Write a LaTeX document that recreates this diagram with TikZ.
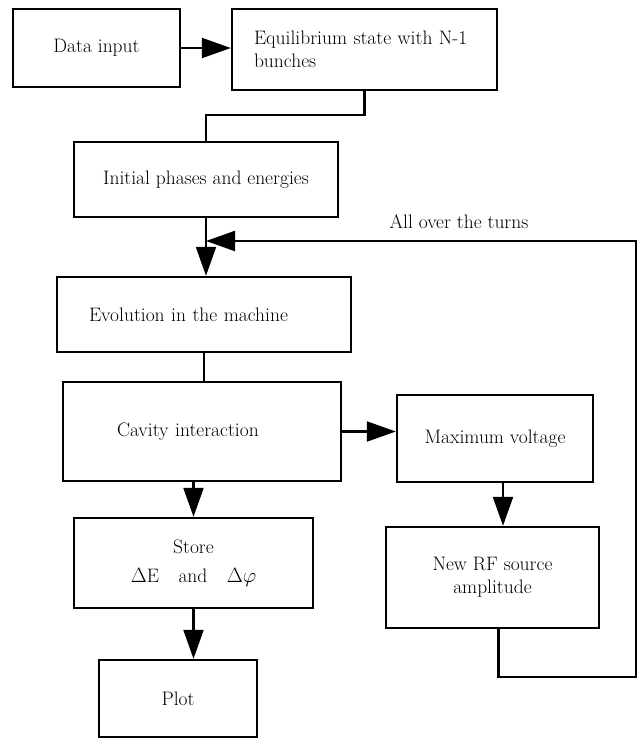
\documentclass[tikz,border=0pt]{standalone}
\usetikzlibrary{arrows.meta,calc}
\newcommand{\FCType}{\fontsize{19.5}{23}\selectfont}
\tikzset{fc/base/.style={x=1pt,y=1pt,line cap=butt,line join=miter,
  every node/.style={font=\FCType,inner sep=0pt}},
  fc/box/.style={draw,line width=2.4pt,align=center},
  fc/arrow/.style={-{Triangle[length=29pt,width=20pt]},line width=2.2pt},
  fc/line/.style={line width=2.2pt}}
\begin{document}
\begin{tikzpicture}[fc/base,y=-1pt]
  \useasboundingbox (0,0) rectangle (642,740);
  % boxes, top row
  \node[fc/box,minimum width=167pt,minimum height=78pt] (datain) at (96.5,48) {Data input};
  \node[fc/box,minimum width=265pt,minimum height=81pt,text width=221pt,align=left] (equil)
    at (364.5,49.5) {Equilibrium state with N-1\\bunches};
  % main column
  \node[fc/box,minimum width=264pt,minimum height=75pt] (initial) at (206,179.5) {Initial phases and energies};
  \node[fc/box,minimum width=294pt,minimum height=75pt,text width=230pt,align=left] (evol)
    at (204,314.5) {Evolution in the machine};
  \node[fc/box,minimum width=278pt,minimum height=99pt,text width=170pt,align=left] (cavity)
    at (202,431.5) {Cavity interaction};
  \node[fc/box,minimum width=239pt,minimum height=90pt] (store) at (193.5,563)
    {Store\\[6pt]$\Delta$E\quad and\quad $\Delta\varphi$};
  \node[fc/box,minimum width=158pt,minimum height=77pt] (plot) at (178,698.5) {Plot};
  % feedback column
  \node[fc/box,minimum width=196pt,minimum height=87pt] (maxv) at (495,438.5) {Maximum voltage};
  \node[fc/box,minimum width=213pt,minimum height=101pt] (newrf) at (492.5,577.5) {New RF source\\amplitude};
  \node (turns) at (459,222) {All over the turns};
  \coordinate (loopin) at (initial.south |- 0,241);
  \coordinate (corner) at (636,677);
  % connectors
  \draw[fc/arrow] (datain.east) -- (datain.east -| equil.west);
  \draw[fc/line] (equil.south) -- ++(0,24) -| (initial.north);
  \draw[fc/arrow] (initial.south) -- (initial.south |- evol.north);
  \draw[fc/line] (evol.south) -- (evol.south |- cavity.north);
  \draw[fc/arrow] (cavity.east) -- (cavity.east -| maxv.west);
  \draw[fc/arrow] (store.north |- cavity.south) -- (store.north);
  \draw[fc/arrow] (store.south) -- (store.south |- plot.north);
  \draw[fc/arrow] ([xshift=8pt]maxv.south) -- ([xshift=8pt]maxv.south |- newrf.north);
  \draw[fc/arrow] ([xshift=6pt]newrf.south) |- (corner) |- (loopin);
\end{tikzpicture}
\end{document}
